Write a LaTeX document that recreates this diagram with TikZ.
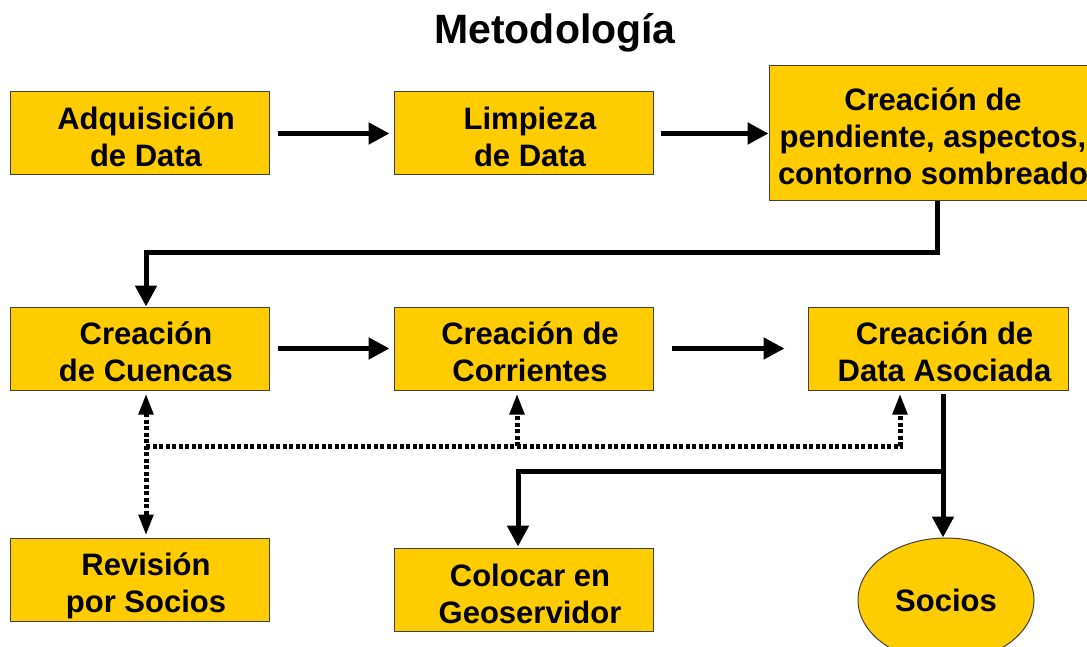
\documentclass[tikz,border=0pt]{standalone}
\usepackage{fontspec}
\setmainfont{Liberation Sans}
\usetikzlibrary{arrows.meta,shapes.geometric}
\definecolor{boxyellow}{HTML}{FFCC00}
\definecolor{boxedge}{HTML}{404040}
\tikzset{dtip/.tip={Triangle[length=21pt,width=14pt]}}
\begin{document}
\begin{tikzpicture}[x=1pt,y=-1pt,
  box/.style={draw=boxedge,line width=1pt,fill=boxyellow,minimum width=259pt,minimum height=83pt,inner sep=0pt},
  boxtext/.style={align=center,inner sep=0pt,font=\fontsize{31}{37}\selectfont\bfseries,xshift=6.5pt,yshift=-3pt},
  arr/.style={line width=5pt,-{Triangle[length=21pt,width=21pt]}},
  dot/.style={line width=5pt,dash pattern=on 4pt off 2.5pt}]
\clip (0,0) rectangle (1087,647);
\fill[white] (0,0) rectangle (1087,647);
\node[font=\fontsize{41}{48}\selectfont\bfseries] (title) at (555,33) {Metodología};
\node[box,label={[boxtext]center:{Adquisición\\de Data}}] (adq) at (139.5,133.5) {};
\node[box,label={[boxtext]center:{Limpieza\\de Data}}] (lim) at (523.5,133.5) {};
\node[box,minimum width=328pt,minimum height=135pt,label={[boxtext,xshift=-6.5pt]center:{Creación de\\pendiente, aspectos,\\contorno sombreado}}] (pen) at (933,133.5) {};
\node[box,label={[boxtext]center:{Creación\\de Cuencas}}] (cue) at (139.5,348.5) {};
\node[box,label={[boxtext]center:{Creación de\\Corrientes}}] (cor) at (523.5,348.5) {};
\node[box,minimum width=260pt,label={[boxtext]center:{Creación de\\Data Asociada}}] (das) at (938,348.5) {};
\node[box,label={[boxtext,yshift=-3pt]center:{Revisión\\por Socios}}] (rev) at (139.5,579.5) {};
\node[box,label={[boxtext,yshift=-1pt]center:{Colocar en\\Geoservidor}}] (geo) at (523.5,589.5) {};
\node[box,ellipse,minimum width=176pt,minimum height=124pt,label={[boxtext,xshift=-6.5pt,yshift=3pt]center:Socios}] (soc) at (946,600) {};
% solid connectors
\draw[arr] ([xshift=8pt]adq.east) -- ([xshift=-4pt]lim.west);
\draw[arr] ([xshift=7pt]lim.east) -- (pen.west);
\draw[arr] ([xshift=4pt]pen.south) -- ++(0,51) -| ([xshift=6.5pt]cue.north);
\draw[arr] ([xshift=8pt]cue.east) -- ([xshift=-4pt]cor.west);
\draw[arr] ([xshift=18pt]cor.east) -- ([xshift=-23pt]das.west);
\draw[arr] ([xshift=5pt,yshift=-3pt]das.south) -- ([xshift=5pt]das.south |- soc.north);
\coordinate (br) at (943,471);
\draw[arr] (br) -| ([xshift=-5.5pt,yshift=1pt]geo.north);
% dotted connectors
\coordinate (dl) at (146,446);
\coordinate (dm) at (517,446);
\draw[dot,dtip-dtip] ([xshift=6.5pt,yshift=-3pt]cue.south) -- ([xshift=6.5pt,yshift=2pt]rev.north);
\draw[dot,-dtip] (dl) -| ([xshift=-38pt,yshift=-3pt]das.south);
\draw[dot,-dtip] (dm) -- ([xshift=-6.5pt,yshift=-3pt]cor.south);
\end{tikzpicture}
\end{document}
